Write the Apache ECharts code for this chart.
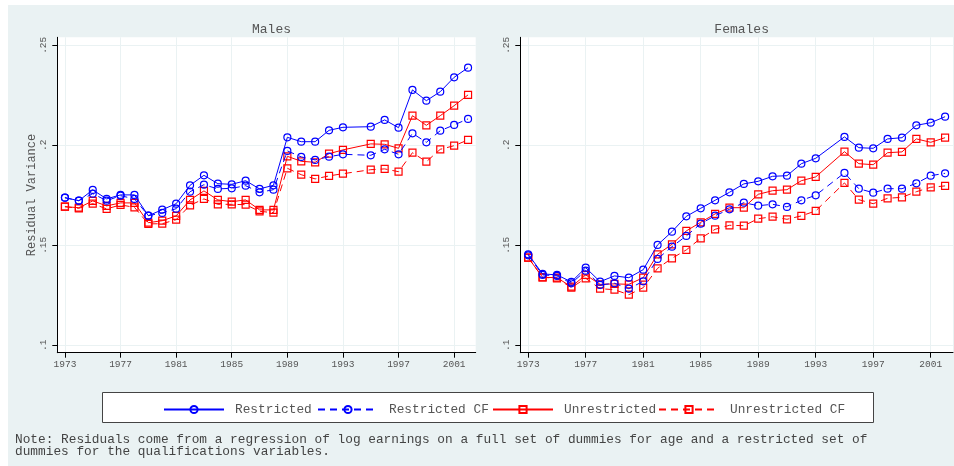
<!DOCTYPE html>
<html>
<head>
<meta charset="utf-8">
<script src="https://cdn.jsdelivr.net/npm/echarts@6/dist/echarts.min.js"></script>
<style>
html,body{margin:0;padding:0;background:#fff;}
#chart{width:954px;height:466px;}
</style>
</head>
<body>
<div id="chart"></div>
<script>
const years = [1973,1974,1975,1976,1977,1978,1979,1980,1981,1982,1983,1984,1985,1986,1987,1988,1989,1990,1991,1992,1993,1995,1996,1997,1998,1999,2000,2001,2002];
const xTickValues = [1973,1977,1981,1985,1989,1993,1997,2001];
const yTickValues = [0.1,0.15,0.2,0.25];
const yTickLabels = ['.1','.15','.2','.25'];
const seriesNames = ['Restricted','Restricted CF','Unrestricted','Unrestricted CF'];
const panelTitles = ['Males','Females'];

const maleRestricted = [0.1738,0.1723,0.1777,0.1732,0.1752,0.1752,0.1648,0.1678,0.1708,0.1800,0.1850,0.1808,0.1805,0.1823,0.1782,0.1800,0.2040,0.2018,0.2018,0.2075,0.2090,0.2093,0.2127,0.2088,0.2277,0.2223,0.2268,0.2340,0.2388];
const maleRestrictedCF = [0.1738,0.1723,0.1758,0.1723,0.1748,0.1732,0.1648,0.1662,0.1683,0.1768,0.1803,0.1782,0.1785,0.1798,0.1765,0.1778,0.1972,0.1942,0.1927,0.1943,0.1955,0.1950,0.1980,0.1955,0.2060,0.2015,0.2073,0.2102,0.2132];
const maleUnrestricted = [0.1693,0.1688,0.1722,0.1697,0.1712,0.1712,0.1613,0.1623,0.1647,0.1727,0.1772,0.1727,0.1718,0.1727,0.1677,0.1677,0.1945,0.1920,0.1915,0.1958,0.1977,0.2007,0.2005,0.1985,0.2148,0.2100,0.2148,0.2198,0.2252];
const maleUnrestrictedCF = [0.1693,0.1685,0.1708,0.1682,0.1702,0.1690,0.1607,0.1608,0.1628,0.1700,0.1732,0.1705,0.1705,0.1703,0.1670,0.1663,0.1885,0.1853,0.1832,0.1847,0.1858,0.1878,0.1882,0.1868,0.1963,0.1918,0.1980,0.1998,0.2027];

const femaleRestricted = [0.1455,0.1357,0.1352,0.1317,0.1388,0.1318,0.1347,0.1338,0.1378,0.1502,0.1568,0.1645,0.1685,0.1725,0.1765,0.1807,0.1820,0.1845,0.1848,0.1908,0.1935,0.2042,0.1988,0.1985,0.2032,0.2038,0.2100,0.2113,0.2143];
const femaleRestrictedCF = [0.1450,0.1352,0.1347,0.1310,0.1373,0.1302,0.1310,0.1283,0.1320,0.1432,0.1493,0.1547,0.1608,0.1648,0.1680,0.1713,0.1698,0.1705,0.1692,0.1725,0.1750,0.1862,0.1783,0.1763,0.1783,0.1783,0.1810,0.1848,0.1860];
const femaleUnrestricted = [0.1438,0.1340,0.1338,0.1293,0.1352,0.1305,0.1307,0.1305,0.1338,0.1455,0.1505,0.1572,0.1615,0.1657,0.1688,0.1688,0.1755,0.1773,0.1778,0.1823,0.1842,0.1968,0.1908,0.1903,0.1963,0.1967,0.2032,0.2015,0.2038];
const femaleUnrestrictedCF = [0.1438,0.1340,0.1335,0.1288,0.1335,0.1283,0.1278,0.1253,0.1288,0.1385,0.1435,0.1477,0.1535,0.1580,0.1600,0.1598,0.1633,0.1643,0.1630,0.1647,0.1672,0.1812,0.1728,0.1708,0.1735,0.1740,0.1768,0.1790,0.1797];

const noteText = 'Note: Residuals come from a regression of log earnings on a full set of dummies for age and a restricted set of\ndummies for the qualifications variables.';

const MONO = '"Liberation Mono", "DejaVu Sans Mono", monospace';
const BLUE = '#0000ff';
const RED = '#ff0000';
const GRIDC = '#eaf2f3';

const panels = [
  {left: 57.3, width: 418.4, data: [maleRestricted, maleRestrictedCF, maleUnrestricted, maleUnrestrictedCF]},
  {left: 520.3, width: 432.7, data: [femaleRestricted, femaleRestrictedCF, femaleUnrestricted, femaleUnrestrictedCF]}
];
const styles = [
  {color: BLUE, symbol: 'circle', type: 'solid'},
  {color: BLUE, symbol: 'circle', type: [7,5]},
  {color: RED, symbol: 'rect', type: 'solid'},
  {color: RED, symbol: 'rect', type: [7,5]}
];

const grids = [], xAxes = [], yAxes = [], series = [], titles = [];
panels.forEach((p, gi) => {
  grids.push({left: p.left, top: 37.3, width: p.width, height: 315.4, show: true, backgroundColor: '#ffffff', borderWidth: 0});
  xAxes.push({
    type: 'value', gridIndex: gi, min: 1972.45, max: 2002.55,
    axisLine: {show: true, onZero: false, lineStyle: {color: '#000', width: 1}},
    axisTick: {show: true, customValues: xTickValues, length: 5, lineStyle: {color: '#000'}},
    axisLabel: {customValues: xTickValues, formatter: v => String(v), fontFamily: MONO, fontSize: 9.5, color: '#555', margin: 7},
    splitLine: {show: true, lineStyle: {color: GRIDC, width: 1}}
  });
  yAxes.push({
    type: 'value', gridIndex: gi, min: 0.0963, max: 0.254,
    name: gi === 0 ? 'Residual Variance' : '',
    nameLocation: 'middle', nameGap: 19,
    nameTextStyle: {fontFamily: MONO, fontSize: 12, color: '#555'},
    axisLine: {show: true, onZero: false, lineStyle: {color: '#000', width: 1}},
    axisTick: {show: true, customValues: yTickValues, length: 5, lineStyle: {color: '#000'}},
    axisLabel: {customValues: yTickValues, rotate: 90, margin: 9, fontFamily: MONO, fontSize: 9.5, color: '#555',
      formatter: v => { const i = yTickValues.findIndex(t => Math.abs(t - v) < 1e-9); return i >= 0 ? yTickLabels[i] : ''; }},
    splitLine: {show: true, lineStyle: {color: GRIDC, width: 1}}
  });
  p.data.forEach((vals, si) => {
    const st = styles[si];
    series.push({
      name: seriesNames[si], type: 'line', xAxisIndex: gi, yAxisIndex: gi,
      data: years.map((y, i) => [y, vals[i]]),
      symbol: st.symbol, symbolSize: 7, showSymbol: true,
      lineStyle: {color: st.color, width: 1, type: st.type},
      itemStyle: {color: 'rgba(0,0,0,0)', borderColor: st.color, borderWidth: 1.2},
      emphasis: {disabled: true}, animation: false, z: 3 + (3 - si)
    });
  });
  titles.push({text: panelTitles[gi], left: p.left + p.width / 2, textAlign: 'center', top: 18,
    textStyle: {fontFamily: MONO, fontSize: 13, fontWeight: 'normal', color: '#555'}});
});

const legendLefts = [158, 312, 487, 653];
const legends = seriesNames.map((n, i) => ({
  data: [n], left: legendLefts[i], top: 398, itemWidth: 60, itemHeight: 9, itemGap: 0,
  selectedMode: false,
  textStyle: {fontFamily: MONO, fontSize: 12.8, color: '#555', padding: [0, 0, 0, 6]}
}));

const chart = echarts.init(document.getElementById('chart'), null, {renderer: 'canvas'});
chart.setOption({
  backgroundColor: '#eaf2f3',
  animation: false,
  title: titles,
  grid: grids,
  xAxis: xAxes,
  yAxis: yAxes,
  legend: legends,
  series: series,
  graphic: [
    {type: 'rect', left: 0, top: 0, shape: {x: 0, y: 0, width: 8, height: 466}, style: {fill: '#fff'}, silent: true},
    {type: 'rect', left: 0, top: 0, shape: {x: 0, y: 0, width: 954, height: 5}, style: {fill: '#fff'}, silent: true},
    {type: 'rect', shape: {x: 102.5, y: 392.5, width: 771, height: 30}, style: {fill: '#fff', stroke: '#444', lineWidth: 1}, silent: true, z: 1},
    {type: 'text', x: 15, y: 434, style: {text: noteText, font: '12.8px ' + MONO, fill: '#444', lineHeight: 12}, silent: true}
  ]
});
</script>
</body>
</html>
